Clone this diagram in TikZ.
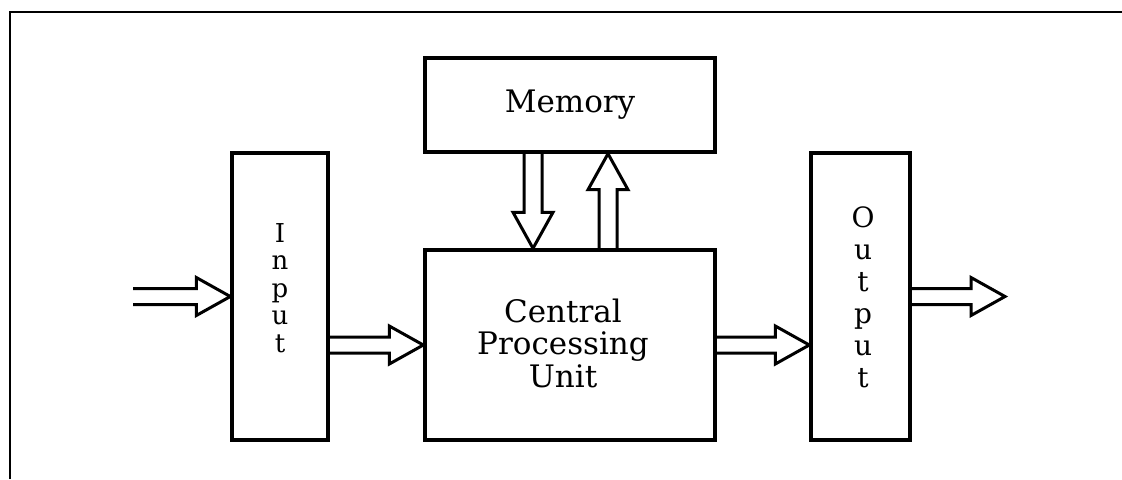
\documentclass[tikz,border=0pt]{standalone}
\usepackage{fontspec}
\setmainfont{DejaVu Serif}
\usetikzlibrary{calc}
\newcommand\hblock[2]{%
  \draw[blockarrow] let \p1=(#1), \p2=(#2), \n1={sign(\x2-\x1)} in
  (\x1,\y2+4pt) -- (\x2-\n1*17pt,\y2+4pt) -- (\x2-\n1*17pt,\y2+9.5pt) -- (\x2,\y2)
  -- (\x2-\n1*17pt,\y2-9.5pt) -- (\x2-\n1*17pt,\y2-4pt) -- (\x1,\y2-4pt);}
\newcommand\vblock[2]{%
  \draw[blockarrow] let \p1=(#1), \p2=(#2), \n1={sign(\y2-\y1)} in
  (\x2+4.5pt,\y1) -- (\x2+4.5pt,\y2-\n1*18pt) -- (\x2+10pt,\y2-\n1*18pt) -- (\x2,\y2)
  -- (\x2-10pt,\y2-\n1*18pt) -- (\x2-4.5pt,\y2-\n1*18pt) -- (\x2-4.5pt,\y1);}
\begin{document}
\begin{tikzpicture}[x=0.5pt,y=-0.5pt,
  box/.style={draw, line width=1.7pt, rectangle, inner sep=0pt},
  blockarrow/.style={draw, line width=1.5pt, line join=miter},
  frameline/.style={line width=1.2pt}]
\useasboundingbox (0,0) rectangle (1122,479);
\coordinate (fbl) at (10,479);
\coordinate (ftl) at (10,12);
\coordinate (ftr) at (1122,12);
\draw[frameline] (fbl) -- (ftl) -- (ftr);
\node[box, minimum width=48pt, minimum height=143.5pt] (in) at (280,296.5) {};
\node[box, minimum width=145pt, minimum height=95pt] (cpu) at (570,345) {};
\node[box, minimum width=145pt, minimum height=47pt, font=\fontsize{15.5}{18}\selectfont] (mem) at (570,105) {Memory};
\node[box, minimum width=49.5pt, minimum height=143.5pt] (out) at (860.5,296.5) {};
\node[anchor=base, align=center, font=\fontsize{15.5}{16.25}\selectfont] (cpulabel) at (563,387) {Central\\Processing\\Unit};
\node[anchor=base, align=center, font=\fontsize{13}{13.75}\selectfont] (inlabel) at (280,352) {I\\n\\p\\u\\t};
\node[anchor=base, align=center, font=\fontsize{14}{16}\selectfont] (outlabel) at (863,387) {O\\u\\t\\p\\u\\t};
\coordinate (src) at (133,296.5);
\coordinate (sink) at (1005,296.5);
\hblock{src}{in.west}
\hblock{in.east |- cpu.west}{cpu.west}
\hblock{cpu.east}{out.west |- cpu.east}
\hblock{out.east}{sink}
\vblock{$(mem.south)+(-37,0)$}{$(cpu.north)+(-37,0)$}
\vblock{$(cpu.north)+(38,0)$}{$(mem.south)+(38,0)$}
\end{tikzpicture}
\end{document}
